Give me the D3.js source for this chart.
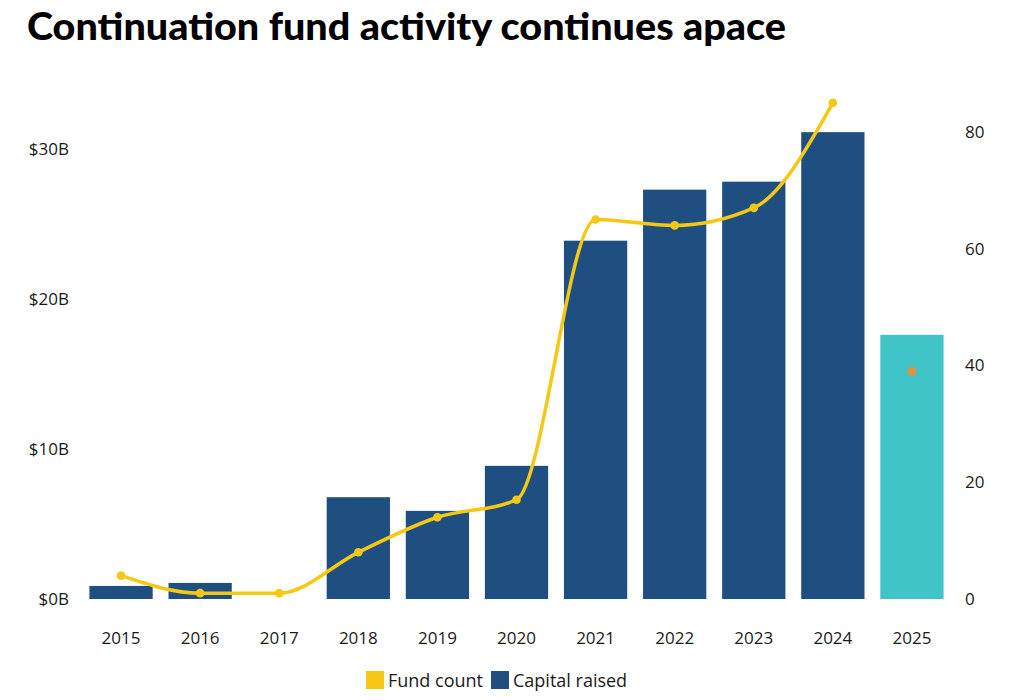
<!DOCTYPE html>
<html>
<head>
<meta charset="utf-8">
<script src="https://cdn.jsdelivr.net/npm/d3@7"></script>
<style>
  body { margin: 0; background: #fff; }
  svg text { font-family: "Open Sans", "Noto Sans", sans-serif; fill: #1a1a1a; }
</style>
</head>
<body>
<svg id="chart" width="1010" height="700"></svg>
<script>
var years = ["2015", "2016", "2017", "2018", "2019", "2020", "2021", "2022", "2023", "2024", "2025"];
var capitalRaised = [0.87, 1.07, 0, 6.78, 5.87, 8.87, 23.87, 27.27, 27.8, 31.1, 17.6];
var fundCount = [4, 1, 1, 8, 14, 17, 65, 64, 67, 85, 39];
var leftTicks = [0, 10, 20, 30];
var rightTicks = [0, 20, 40, 60, 80];

var navy = "#1f4f80",
  cyan = "#40c4c8",
  yellow = "#f5c814",
  orange = "#e8903a";

var svg = d3.select("#chart");

var plotBottom = 599, plotTop = 132;

var x = d3.scaleBand()
  .domain(years)
  .range([81.5, 951.5])
  .paddingInner(0.2)
  .paddingOuter(0.1);

var yLeft = d3.scaleLinear().domain([0, 31.11]).range([plotBottom, plotTop]);
var yRight = d3.scaleLinear().domain([0, 80]).range([plotBottom, plotTop]);

// title
svg.append("text")
  .attr("x", 27)
  .attr("y", 40)
  .attr("textLength", 759)
  .attr("lengthAdjust", "spacingAndGlyphs")
  .style("font-family", "Lato, 'Open Sans', sans-serif")
  .style("font-weight", "900")
  .style("font-size", "38px")
  .style("fill", "#000")
  .text("Continuation fund activity continues apace");

// bars
var data = years.map(function(y, i) {
  return { year: y, cap: capitalRaised[i], count: fundCount[i] };
});

svg.selectAll("rect.bar")
  .data(data)
  .enter()
  .append("rect")
  .attr("class", "bar")
  .attr("x", function(d) { return x(d.year); })
  .attr("width", x.bandwidth())
  .attr("y", function(d) { return yLeft(d.cap); })
  .attr("height", function(d) { return plotBottom - yLeft(d.cap); })
  .attr("fill", function(d) { return d.year == "2025" ? cyan : navy; });

// line (2015-2024)
var lineData = data.filter(function(d) { return d.year != "2025"; });
var line = d3.line()
  .x(function(d) { return x(d.year) + x.bandwidth() / 2; })
  .y(function(d) { return yRight(d.count); })
  .curve(d3.curveMonotoneX);

svg.append("path")
  .datum(lineData)
  .attr("d", line)
  .attr("fill", "none")
  .attr("stroke", yellow)
  .attr("stroke-width", 3.5);

svg.selectAll("circle.pt")
  .data(data)
  .enter()
  .append("circle")
  .attr("class", "pt")
  .attr("cx", function(d) { return x(d.year) + x.bandwidth() / 2; })
  .attr("cy", function(d) { return yRight(d.count); })
  .attr("r", 4.3)
  .attr("fill", function(d) { return d.year == "2025" ? orange : yellow; });

// axes
var leftAxis = d3.axisLeft(yLeft)
  .tickValues(leftTicks)
  .tickSize(0)
  .tickPadding(0)
  .tickFormat(function(d) { return "$" + d + "B"; });

var gL = svg.append("g").attr("transform", "translate(69,0)").call(leftAxis);
gL.select(".domain").remove();
gL.selectAll("text").style("font-size", "17px").style("font-family", "'Open Sans', sans-serif");

var rightAxis = d3.axisRight(yRight)
  .tickValues(rightTicks)
  .tickSize(0)
  .tickPadding(0);

var gR = svg.append("g").attr("transform", "translate(965,0)").call(rightAxis);
gR.select(".domain").remove();
gR.selectAll("text").style("font-size", "17px").style("font-family", "'Open Sans', sans-serif");

var bottomAxis = d3.axisBottom(x).tickSize(0).tickPadding(0);
var gB = svg.append("g").attr("transform", "translate(0,632)").call(bottomAxis);
gB.select(".domain").remove();
gB.selectAll("text").style("font-size", "17px").style("font-family", "'Open Sans', sans-serif");

// legend
var legendItems = [
  { label: "Fund count", color: yellow, x: 366 },
  { label: "Capital raised", color: navy, x: 491 }
];
var lg = svg.append("g");
legendItems.forEach(function(it) {
  lg.append("rect")
    .attr("x", it.x).attr("y", 671)
    .attr("width", 18).attr("height", 18)
    .attr("fill", it.color);
  lg.append("text")
    .attr("x", it.x + 22).attr("y", 687)
    .style("font-size", "18px")
    .text(it.label);
});
</script>
</body>
</html>
